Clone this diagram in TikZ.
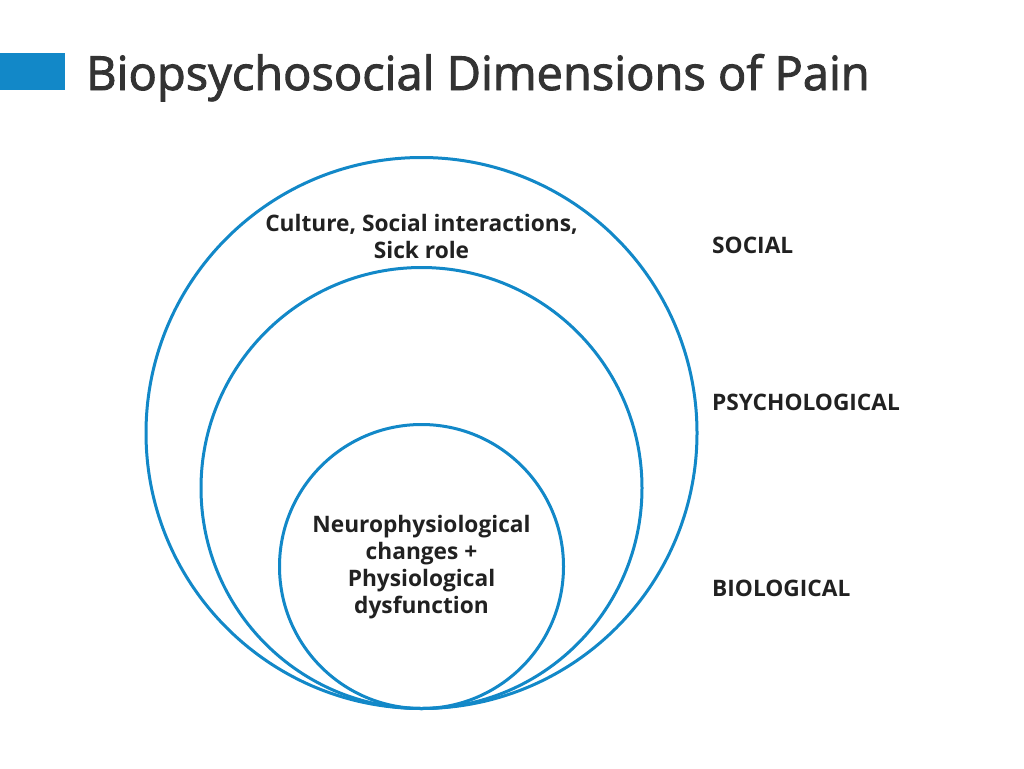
\documentclass[tikz,border=0pt]{standalone}
\usepackage{fontspec}
\setmainfont{Open Sans}
\newfontfamily\titlefont[FakeBold=2]{Open Sans}
\usepackage{tikz}
\definecolor{ringblue}{RGB}{18,136,200}
\definecolor{titlegray}{RGB}{51,51,51}
\definecolor{labelblack}{RGB}{33,33,33}

\begin{document}
\begin{tikzpicture}[x=1pt,y=-1pt,
    ring/.style={draw=ringblue, line width=3pt, circle, inner sep=0pt, outer sep=0pt},
    dimlabel/.style={text=labelblack, inner sep=0pt, font=\bfseries\fontsize{22.7}{27}\selectfont}]
        \useasboundingbox[fill=white] (0,0) rectangle (1024,768);
        % title bar
        \fill[ringblue] (0,53) rectangle (65,90);
        \node[anchor=base west, inner sep=0pt, text=titlegray, font=\titlefont\fontsize{47}{52}\selectfont] (title) at (86,90) {Biopsychosocial Dimensions of Pain};
        % nested rings
        \node[ring, minimum size=551pt] (social) at (421.5,433) {};
        \node[ring, minimum size=441pt] (psych) at (421.5,488) {};
        \node[ring, minimum size=284pt] (bio) at (421.5,566.5) {};
        \node[dimlabel, align=center, anchor=base] (socialtext) at (421.5,258) {Culture, Social interactions,\\Sick role};
        \node[dimlabel, align=center, anchor=base] (biotext) at (421.5,613) {Neurophysiological\\changes +\\Physiological\\dysfunction};
        % side labels
        \node[dimlabel, anchor=base west] (sociallabel) at (712,253) {SOCIAL};
        \node[dimlabel, anchor=base west] (psychlabel) at (712,410) {PSYCHOLOGICAL};
        \node[dimlabel, anchor=base west] (biolabel) at (712,596) {BIOLOGICAL};
    \end{tikzpicture}
\end{document}
